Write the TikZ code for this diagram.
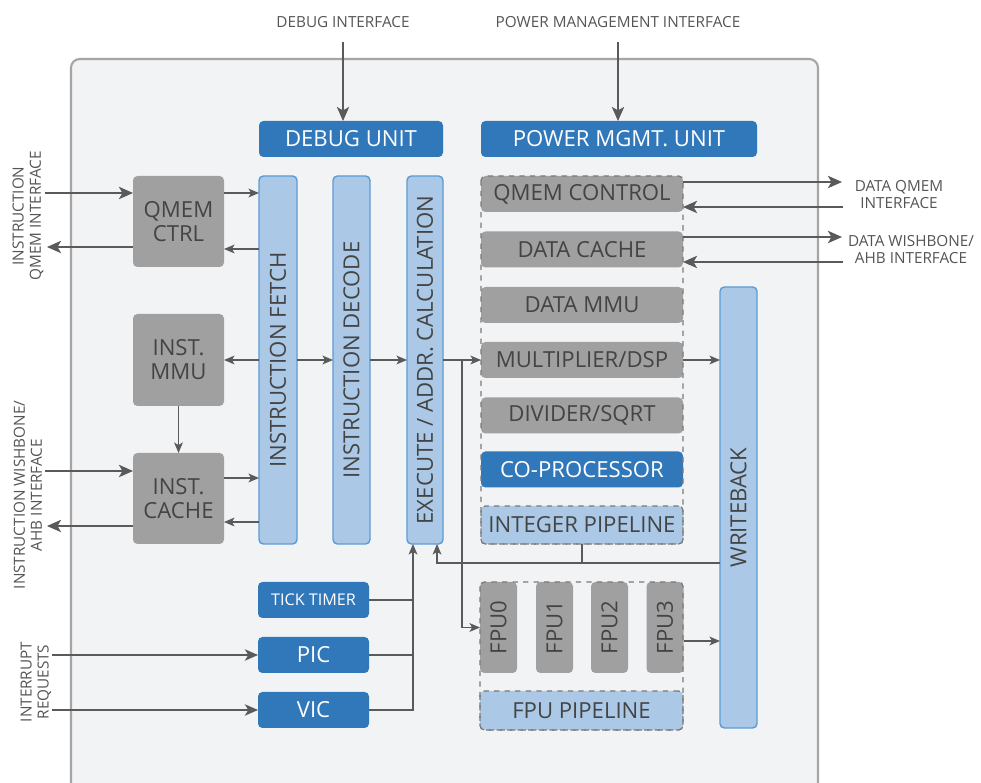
\documentclass[tikz,border=0pt]{standalone}
\usepackage{fontspec}
\usepackage{graphicx}
\setmainfont{Open Sans}
\usetikzlibrary{arrows.meta,calc}
\definecolor{dblue}{HTML}{3178BB}
\definecolor{lblue}{HTML}{ABC9E6}
\definecolor{lbord}{HTML}{5B9BD5}
\definecolor{gfill}{HTML}{A0A0A0}
\definecolor{gtext}{HTML}{444444}
\definecolor{arrc}{HTML}{5A5A5A}
\definecolor{bgc}{HTML}{F2F3F5}
\definecolor{framec}{HTML}{A5A5A5}
\definecolor{dashc}{HTML}{7A7A7A}
\definecolor{ltext}{HTML}{555555}
\newdimen\pxu \pxu=0.02cm
\newcommand\fbig{\fontsize{12.6}{13.6}\selectfont}
\newcommand\fmid{\fontsize{9.2}{10}\selectfont}
\newcommand\fsmall{\fontsize{8.7}{9.7}\selectfont}
\begin{document}
\begin{tikzpicture}[x=0.02cm,y=-0.02cm,
  box/.style={rounded corners=2.5pt, inner sep=0pt, outer sep=0pt, font=\fbig, align=center},
  dbx/.style={box, fill=dblue, text=white},
  gbx/.style={box, fill=gfill, text=gtext},
  lbx/.style={box, fill=lblue, draw=lbord, line width=0.8pt, text=gtext},
  ldbx/.style={box, fill=lblue, draw=dashc, dashed, line width=0.7pt, text=gtext},
  grp/.style={draw=dashc, dashed, line width=0.7pt, rounded corners=2.5pt},
  arr/.style={draw=arrc, line width=0.75pt, -{Stealth[length=6pt,width=5pt,inset=1.5pt]}},
  xarr/.style={draw=arrc, line width=1.1pt, -{Stealth[length=8pt,width=7pt,inset=2pt]}},
  iarr/.style={draw=arrc, line width=0.85pt, -{Stealth[length=7.5pt,width=6.5pt,inset=2pt]}},
  ln/.style={draw=arrc, line width=0.75pt},
  lbl/.style={font=\fsmall, text=ltext, inner sep=0pt, align=center}
]
\useasboundingbox (0,0) rectangle (981,783);
\fill[white] (0,0) rectangle (981,783);
\draw[framec, line width=1.2pt, fill=bgc, rounded corners=5pt] (71,800) -- (71,59) -- (818,59) -- (818,800);

% top units
\node[dbx, minimum width=184*\pxu, minimum height=36*\pxu] (dbg) at (351,139) {DEBUG UNIT};
\node[dbx, minimum width=276*\pxu, minimum height=36*\pxu] (pmu) at (619,139) {POWER MGMT. UNIT};

% instruction side
\node[gbx, minimum width=91*\pxu, minimum height=91*\pxu] (qctrl) at (178.5,221.5) {QMEM\\CTRL};
\node[gbx, minimum width=91*\pxu, minimum height=92*\pxu] (immu) at (178.5,360) {INST.\\MMU};
\node[gbx, minimum width=91*\pxu, minimum height=91*\pxu] (icache) at (178.5,498.5) {INST.\\CACHE};

\node[lbx, minimum width=38*\pxu, minimum height=368*\pxu] (fetch) at (278,360) {\rotatebox{90}{INSTRUCTION FETCH}};
\node[lbx, minimum width=37*\pxu, minimum height=368*\pxu] (decode) at (351.5,360) {\rotatebox{90}{INSTRUCTION DECODE}};
\node[lbx, minimum width=36*\pxu, minimum height=368*\pxu] (exec) at (425,360) {\rotatebox{90}{EXECUTE / ADDR. CALCULATION}};

% integer pipeline group
\node[gbx, minimum width=202*\pxu, minimum height=36*\pxu] (qcon) at (582,194) {QMEM CONTROL};
\node[gbx, minimum width=202*\pxu, minimum height=36*\pxu] (dcache) at (582,249.5) {DATA CACHE};
\node[gbx, minimum width=202*\pxu, minimum height=36*\pxu] (dmmu) at (582,305) {DATA MMU};
\node[gbx, minimum width=202*\pxu, minimum height=36*\pxu] (mult) at (582,360) {MULTIPLIER/DSP};
\node[gbx, minimum width=202*\pxu, minimum height=36*\pxu] (div) at (582,415.5) {DIVIDER/SQRT};
\node[dbx, minimum width=202*\pxu, minimum height=36*\pxu] (cop) at (582,469.5) {CO-PROCESSOR};
\node[ldbx, minimum width=202*\pxu, minimum height=38*\pxu] (intp) at (582,525) {INTEGER PIPELINE};
\draw[grp] (qcon.north west) rectangle (intp.south east);

% writeback
\node[lbx, minimum width=37*\pxu, minimum height=441*\pxu] (wb) at (738.5,507.5) {\rotatebox{90}{WRITEBACK}};

% FPU group
\node[gbx, minimum width=37*\pxu, minimum height=91*\pxu] (fpu0) at (498.5,627.5) {\rotatebox{90}{FPU0}};
\node[gbx, minimum width=37*\pxu, minimum height=91*\pxu] (fpu1) at (554.5,627.5) {\rotatebox{90}{FPU1}};
\node[gbx, minimum width=37*\pxu, minimum height=91*\pxu] (fpu2) at (609.5,627.5) {\rotatebox{90}{FPU2}};
\node[gbx, minimum width=37*\pxu, minimum height=91*\pxu] (fpu3) at (665,627.5) {\rotatebox{90}{FPU3}};
\node[ldbx, minimum width=203*\pxu, minimum height=39*\pxu] (fpup) at (581.5,710.5) {FPU PIPELINE};
\draw[grp] (fpu0.north west) rectangle (fpup.south east);

% timers / interrupt controllers
\node[dbx, minimum width=111*\pxu, minimum height=36*\pxu, font=\fmid] (tick) at (313.5,600) {TICK TIMER};
\node[dbx, minimum width=111*\pxu, minimum height=36*\pxu] (pic) at (313.5,655) {PIC};
\node[dbx, minimum width=111*\pxu, minimum height=36*\pxu] (vic) at (313.5,710) {VIC};

% labels
\node[lbl] (dbgl) at (343,22) {DEBUG INTERFACE};
\node[lbl] (pmul) at (618,22) {POWER MANAGEMENT INTERFACE};
\node[lbl, rotate=90] (iql) at (28,216) {INSTRUCTION\\QMEM INTERFACE};
\node[lbl, rotate=90] (iwl) at (28,495) {INSTRUCTION WISHBONE/\\AHB INTERFACE};
\node[lbl, rotate=90] (irl) at (36,682) {INTERRUPT\\REQUESTS};
\node[lbl] (dql) at (899,195) {DATA QMEM\\INTERFACE};
\node[lbl] (dwl) at (911,250) {DATA WISHBONE/\\AHB INTERFACE};

% free ends
\coordinate (dbgin) at (343,42);
\coordinate (pmuin) at (618,42);
\coordinate (iq1) at (45,193);
\coordinate (iq2) at (47,247);
\coordinate (iw1) at (45,471);
\coordinate (iw2) at (47,526);
\coordinate (ir1) at (52,655);
\coordinate (ir2) at (52,710);
\coordinate (dq1) at (842,182);
\coordinate (dq2) at (843,207);
\coordinate (dw1) at (842,237);
\coordinate (dw2) at (843,262);
\coordinate (br) at (462,360);

% external arrows
\draw[xarr] (dbgin) -- (dbgin |- dbg.north);
\draw[xarr] (pmuin) -- (pmuin |- pmu.north);
\draw[xarr] (iq1) -- (qctrl.west |- iq1);
\draw[xarr] (qctrl.west |- iq2) -- (iq2);
\draw[xarr] (iw1) -- (icache.west |- iw1);
\draw[xarr] (icache.west |- iw2) -- (iw2);
\draw[iarr] (ir1) -- (pic.west);
\draw[iarr] (ir2) -- (vic.west);
\draw[xarr] (qcon.east |- dq1) -- (dq1);
\draw[xarr] (dq2) -- (qcon.east |- dq2);
\draw[xarr] (dcache.east |- dw1) -- (dw1);
\draw[xarr] (dw2) -- (dcache.east |- dw2);

% internal arrows
\draw[arr] (qctrl.east |- 0,193) -- (fetch.west |- 0,193);
\draw[arr] (fetch.west |- 0,249) -- (qctrl.east |- 0,249);
\draw[arr] (fetch.west) -- (immu.east);
\draw[arr] (icache.east |- 0,478) -- (fetch.west |- 0,478);
\draw[arr] (fetch.west |- 0,522) -- (icache.east |- 0,522);
\draw[arr] (immu.south) -- (icache.north);
\draw[arr] (fetch.east) -- (decode.west);
\draw[arr] (decode.east) -- (exec.west);
\draw[arr] (exec.east) -- (mult.west);
\draw[arr] (br) |- (fpu0.west);
\draw[arr] (mult.east) -- (wb.west |- mult.east);
\draw[arr] (fpu3.east |- 0,641) -- (wb.west |- 0,641);
\draw[arr] (wb.west |- 0,563) -| (437,0 |- exec.south);
\draw[ln] (intp.south) -- (intp.south |- 0,563);
\draw[ln] (tick.east) -- (413,0 |- tick.east);
\draw[ln] (pic.east) -- (413,0 |- pic.east);
\draw[arr] (vic.east) -| (413,0 |- exec.south);
\end{tikzpicture}
\end{document}
